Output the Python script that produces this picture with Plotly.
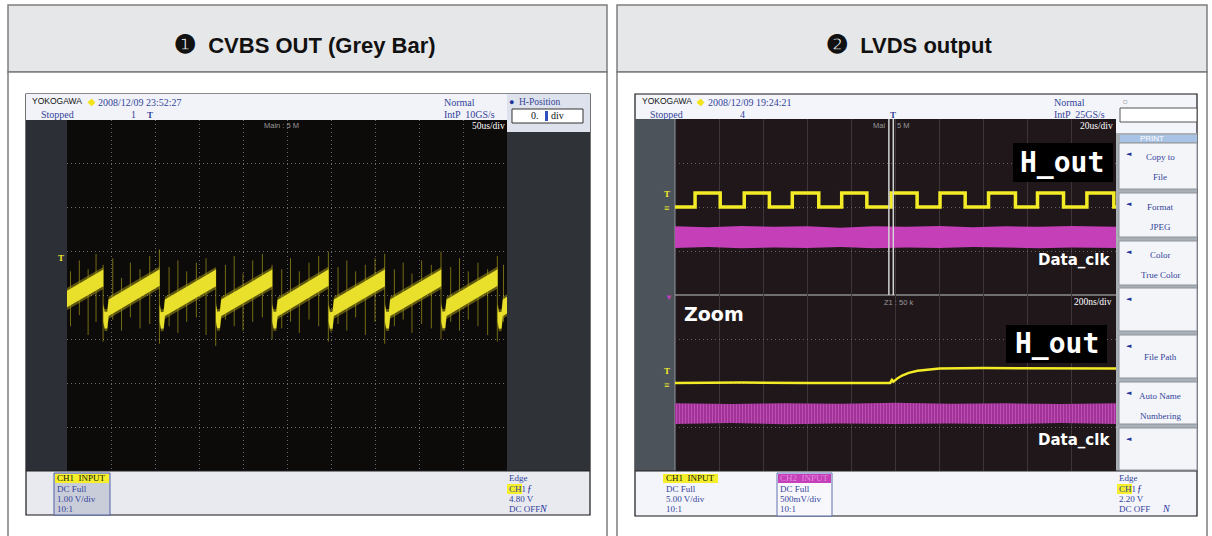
import plotly.graph_objects as go

W, H = 1212, 536

# ---------------- data ----------------
titles = ["❶", "CVBS OUT (Grey Bar)", "❷", "LVDS output"]

# CVBS OUT (grey bar), 50 us/div, 1 V/div  -> centre of the trace band, in divisions
cvbs_t = [0.0,
          41.3, 41.3, 42.8, 45.8, 47.3,
          105.3, 105.3, 106.8, 109.8, 111.3,
          169.3, 169.3, 170.8, 173.8, 175.3,
          233.3, 233.3, 234.8, 237.8, 239.3,
          297.3, 297.3, 298.8, 301.8, 303.3,
          361.3, 361.3, 362.8, 365.8, 367.3,
          425.3, 425.3, 426.8, 429.8, 431.3,
          489.3, 489.3, 490.8, 493.8, 495.3,
          500.0]
cvbs_v = [-0.08,
          0.40, -0.40, -0.56, -0.56, -0.28,
          0.41, -0.40, -0.57, -0.56, -0.28,
          0.40, -0.41, -0.56, -0.55, -0.28,
          0.40, -0.40, -0.56, -0.56, -0.29,
          0.41, -0.40, -0.57, -0.56, -0.28,
          0.40, -0.41, -0.56, -0.56, -0.28,
          0.40, -0.40, -0.56, -0.55, -0.28,
          0.41, -0.40, -0.57, -0.56, -0.28,
          -0.22]

# thin glitch spikes riding on the CVBS trace
spike_t = [4, 14, 24, 33, 41, 52, 62, 72,
           83, 94, 105, 116, 126, 136, 147, 158,
           169, 180, 190, 200, 211, 222, 233, 244,
           254, 264, 275, 286, 297, 308, 318, 328,
           339, 350, 361, 372, 382, 392, 403, 414,
           425, 436, 446, 456, 467, 478, 489, 496]
spike_hi = [0.55, 0.80, 0.60, 0.95, 0.70, 0.85, 0.40, 0.75,
            0.60, 0.90, 1.05, 0.65, 0.80, 0.55, 0.75, 0.85,
            0.60, 0.70, 0.90, 0.50, 0.80, 0.95, 0.70, 0.60,
            0.85, 0.55, 0.75, 0.90, 1.00, 0.65, 0.80, 0.55,
            0.70, 0.85, 0.95, 0.60, 0.75, 0.50, 0.80, 0.70,
            1.00, 0.65, 0.85, 0.55, 0.75, 0.60, 0.90, 0.70]
spike_lo = [-0.70, -0.45, -0.90, -0.60, -1.05, -0.55, -0.80, -0.50,
            -0.75, -0.65, -1.10, -0.70, -0.85, -0.60, -0.50, -0.90,
            -1.15, -0.55, -0.70, -0.80, -0.60, -0.50, -1.00, -0.75,
            -0.60, -0.85, -0.55, -0.70, -1.05, -0.65, -0.80, -0.50,
            -0.90, -0.60, -1.10, -0.70, -0.55, -0.85, -0.65, -0.75,
            -1.00, -0.60, -0.80, -0.55, -0.70, -0.90, -1.05, -0.60]

# LVDS main window, 20 us/div
hout_rise_us = [9.1, 31.4, 53.2, 75.6, 98.0, 120.2, 142.2, 164.4, 186.8]
hout_fall_us = [20.5, 42.8, 65.2, 87.0, 109.8, 131.6, 154.4, 176.2, 199.0]
hout_low, hout_high = 0.0, 0.32
dclk_main_t = [0, 15, 30, 45, 60, 75, 90, 105, 120, 135, 150, 165, 180, 200]
dclk_main_top = [-0.44, -0.46, -0.43, -0.45, -0.44, -0.47, -0.44, -0.45, -0.43, -0.46, -0.44, -0.45, -0.43, -0.45]
dclk_main_bot = [-0.93, -0.91, -0.94, -0.92, -0.93, -0.91, -0.94, -0.92, -0.93, -0.91, -0.92, -0.94, -0.92, -0.93]
zoom_start_us, zoom_width_us = 97.0, 2.0

# LVDS zoom window, 200 ns/div
hout_zoom_ns = [0, 300, 600, 900, 975, 984, 990, 998, 1010, 1030, 1060, 1100, 1150, 1200, 1400, 1700, 2000]
hout_zoom_div = [0.0, 0.01, 0.0, 0.01, 0.0, 0.07, 0.03, 0.06, 0.11, 0.17, 0.23, 0.28, 0.31, 0.33, 0.34, 0.33, 0.33]
dclk_zoom_t = [0, 250, 500, 750, 1000, 1250, 1500, 1750, 2000]
dclk_zoom_top = [-0.46, -0.48, -0.46, -0.47, -0.45, -0.47, -0.46, -0.48, -0.46]
dclk_zoom_bot = [-0.93, -0.91, -0.94, -0.92, -0.93, -0.92, -0.94, -0.91, -0.93]

menu_labels = [("Copy to", "File"), ("Format", "JPEG"), ("Color", "True Color"), ("", ""),
               ("", "File Path"), ("Auto Name", "Numbering"), ("", "")]

# ---------------- helpers ----------------
SERIF = "Liberation Serif, DejaVu Serif, serif"
SANS = "Liberation Sans, Arial, sans-serif"
BOLD = "DejaVu Sans, sans-serif"
MONO = "DejaVu Sans Mono, monospace"
BLUE = "#34449a"
YEL = "#f3eb26"
MAG = "#c43fb8"


def fx(x):
    return x / W


def fy(y):
    return 1 - y / H


shapes, annotations = [], []


def rect(x0, y0, x1, y1, fill=None, line=None, lw=1, layer="below"):
    shapes.append(dict(type="rect", xref="paper", yref="paper",
                       x0=fx(x0), x1=fx(x1), y0=fy(y1), y1=fy(y0),
                       fillcolor=fill or "rgba(0,0,0,0)",
                       line=dict(color=line or "rgba(0,0,0,0)", width=lw if line else 0),
                       layer=layer))


def hline(x0, x1, y, color, w=1, layer="below"):
    shapes.append(dict(type="line", xref="paper", yref="paper", x0=fx(x0), x1=fx(x1),
                       y0=fy(y), y1=fy(y), line=dict(color=color, width=w), layer=layer))


def vline(x, y0, y1, color, w=1, layer="below"):
    shapes.append(dict(type="line", xref="paper", yref="paper", x0=fx(x), x1=fx(x),
                       y0=fy(y0), y1=fy(y1), line=dict(color=color, width=w), layer=layer))


def txt(x, y, s, size=9, color="#000", family=SERIF, anchor="left", bold=False):
    annotations.append(dict(x=fx(x), y=fy(y), xref="paper", yref="paper", text=s,
                            showarrow=False, xanchor=anchor, yanchor="middle",
                            font=dict(size=size, color=color, family=family,
                                      weight="bold" if bold else "normal"),
                            borderpad=0))


fig = go.Figure()

# ---------------- table cells ----------------
for (cx0, cx1), num, title in zip([(8, 607), (617, 1207)], titles[0::2], titles[1::2]):
    rect(cx0, 5, cx1, 72, fill="#e6e7e8", line="#7d7d7d", lw=1.5)
    rect(cx0, 72, cx1, 560, fill="white", line="#7d7d7d", lw=1.5)
    txt((cx0 + cx1) / 2 - 3, 44,
        "<span style='font-size:25px'>" + num + "</span>  " + title,
        22, "#111", SANS, anchor="center", bold=True)

# ---------------- left scope screen ----------------
rect(26, 94, 590, 515, fill="#e8eaf0", line="#161616", lw=1.2)
rect(26, 94, 590, 120, fill="#f1f3f8")
rect(26, 120, 67, 471, fill="#2c3036")
rect(67, 120, 507, 471, fill="#0d0a0a")
rect(507, 120, 590, 471, fill="#2f3338")
rect(507, 94, 590, 132, fill="#dde2ec")
rect(512, 109, 583, 123, fill="white", line="#333", lw=1)
rect(545, 111, 548, 121, fill="#3050c0")
hline(26, 590, 471, "#222", 1)
rect(54, 473, 110, 515, fill="#c9cdd9", line="#5363a3", lw=1)
rect(55, 474, 109, 483, fill="#f4ef2a")
rect(507, 484, 522, 494, fill="#f4ef2a")

txt(31, 101, "YOKOGAWA", 8.5, "#111", SANS)
txt(87, 101, "◆", 10, "#f2e31b", SANS)
txt(97, 102, "2008/12/09 23:52:27", 10, BLUE)
txt(40, 114, "Stopped", 10, BLUE)
txt(130, 114, "1", 10, BLUE)
txt(146, 115, "T", 9, BLUE, bold=True)
txt(443, 102, "Normal", 10, BLUE)
txt(443, 114, "IntP  10GS/s", 10, BLUE)
txt(508, 102, "●", 9, "#23339a", SANS)
txt(518, 102, "H-Position", 9.5, BLUE)
txt(530, 116, "0.", 10, "#111")
txt(550, 116, "div", 10, "#111")
txt(263, 125, "Main : 5 M", 7.5, "#9a9a9a", SANS)
txt(506, 126, "50us/div", 9.5, "white", anchor="right")
txt(57, 258, "T", 9, YEL, bold=True)

txt(56, 478, "CH1  INPUT", 9, "#111")
txt(56, 489, "DC Full", 9, BLUE)
txt(56, 499, "1.00 V/div", 9, BLUE)
txt(56, 509, "10:1", 9, BLUE)
txt(508, 478, "Edge", 9, BLUE)
txt(508, 489, "CH1", 9, BLUE)
txt(526, 488, "ƒ", 10, "#23339a")
txt(508, 499, "4.80 V", 9, BLUE)
txt(508, 509, "DC OFF", 9, BLUE)
txt(538, 508, "<i>N</i>", 10, "#23339a")

# ---------------- right scope screen ----------------
rect(635, 94, 1197, 516, fill="#f3f5fa", line="#161616", lw=1.2)
rect(635, 119, 675, 471, fill="#4c535b")
rect(675, 119, 1116, 471, fill="#1f171a")
rect(1116, 133, 1197, 471, fill="#a9afb7")
rect(1120, 108, 1197, 122, fill="white", line="#555", lw=1)
rect(1120, 135, 1197, 142, fill="#a9c3e6")
vline(675, 119, 471, "#8f969e", 1)
hline(675, 1116, 295, "#8c8c8c", 1.5)
hline(635, 1197, 471, "#222", 1)

menu_boxes = [(143, 189), (193, 237), (241, 285), (288, 331), (335, 378), (382, 424), (428, 470)]
for (y0, y1), (l1, l2) in zip(menu_boxes, menu_labels):
    rect(1119, y0, 1197, y1, fill="#f3f5f9", line="#8e949c", lw=1)
    txt(1125, y0 + 11, "◄", 7, "#23339a", BOLD)
    if l1:
        txt(1160, y0 + 14, l1, 9, BLUE, anchor="center")
    if l2:
        txt(1160, y0 + 34 if l1 else y0 + 22, l2, 9, BLUE, anchor="center")
txt(1152, 138.5, "PRINT", 8, "white", SANS, anchor="center")
txt(1121, 101, "○", 10, "#999", SANS)

txt(641, 101, "YOKOGAWA", 8.5, "#111", SANS)
txt(696, 101, "◆", 10, "#f2e31b", SANS)
txt(707, 102, "2008/12/09 19:24:21", 10, BLUE)
txt(649, 114, "Stopped", 10, BLUE)
txt(739, 114, "4", 10, BLUE)
txt(889, 115, "T", 9, BLUE, bold=True)
txt(1053, 102, "Normal", 10, BLUE)
txt(1053, 114, "IntP  25GS/s", 10, BLUE)

txt(872, 126, "Mai", 7.5, "#9a9a9a", SANS)
txt(896, 126, "5 M", 7.5, "#9a9a9a", SANS)
txt(1114, 126, "20us/div", 9.5, "white", anchor="right")
txt(883, 302, "Z1 : 50 k", 7.5, "#9a9a9a", SANS)
txt(1113, 302, "200ns/div", 9.5, "white", anchor="right")
txt(683, 314, "Zoom", 19, "white", BOLD, bold=True)

rect(1013, 143, 1113, 182, fill="black", layer="above")
txt(1062, 162, "H_out", 28, "white", MONO, anchor="center", bold=True)
rect(1006, 325, 1107, 363, fill="black", layer="above")
txt(1057, 343, "H_out", 28, "white", MONO, anchor="center", bold=True)
txt(1111, 260, "Data_clk", 15, "white", BOLD, anchor="right", bold=True)
txt(1111, 440, "Data_clk", 15, "white", BOLD, anchor="right", bold=True)

txt(663, 194, "T", 9, YEL, bold=True)
txt(663, 208, "≡", 9, YEL, SANS)
txt(663, 371, "T", 9, YEL, bold=True)
txt(663, 385, "≡", 9, YEL, SANS)
txt(664, 297, "▼", 8, MAG, SANS)

rect(663, 474, 718, 483, fill="#f4ef2a")
rect(777, 473, 832, 516, fill="#f8f8fc", line="#6070b0", lw=1)
rect(778, 474, 831, 483, fill=MAG)
rect(1117, 484, 1132, 494, fill="#f4ef2a")
txt(665, 478, "CH1  INPUT", 9, "#111")
txt(665, 489, "DC Full", 9, BLUE)
txt(665, 499, "5.00 V/div", 9, BLUE)
txt(665, 509, "10:1", 9, BLUE)
txt(779, 478, "CH2  INPUT", 9, "#e58ade")
txt(779, 489, "DC Full", 9, BLUE)
txt(779, 499, "500mV/div", 9, BLUE)
txt(779, 509, "10:1", 9, BLUE)
txt(1118, 478, "Edge", 9, BLUE)
txt(1118, 489, "CH1", 9, BLUE)
txt(1136, 488, "ƒ", 10, "#23339a")
txt(1118, 499, "2.20 V", 9, BLUE)
txt(1118, 509, "DC OFF", 9, BLUE)
txt(1161, 508, "<i>N</i>", 10, "#23339a")

# zoom window cursor lines on the main trace
for xv in [zoom_start_us, zoom_start_us + zoom_width_us]:
    shapes.append(dict(type="line", xref="x2", yref="paper", x0=xv, x1=xv,
                       y0=fy(295), y1=fy(119), line=dict(color="#d4d4d4", width=1.5), layer="above"))

# ---------------- traces ----------------
# CVBS
sx, sy = [], []
for t, lo, hi in zip(spike_t, spike_lo, spike_hi):
    sx += [t, t, None]
    sy += [lo, hi, None]
fig.add_trace(go.Scatter(x=sx, y=sy, mode="lines", line=dict(color="rgba(200,190,30,0.55)", width=1),
                         xaxis="x", yaxis="y", hoverinfo="skip", showlegend=False))
fig.add_trace(go.Scatter(x=cvbs_t, y=[v - 0.25 for v in cvbs_v], mode="lines", line=dict(width=0),
                         xaxis="x", yaxis="y", hoverinfo="skip", showlegend=False))
fig.add_trace(go.Scatter(x=cvbs_t, y=[v + 0.25 for v in cvbs_v], mode="lines", line=dict(width=0),
                         fill="tonexty", fillcolor="rgba(160,150,20,0.55)",
                         xaxis="x", yaxis="y", hoverinfo="skip", showlegend=False))
fig.add_trace(go.Scatter(x=cvbs_t, y=[v - 0.19 for v in cvbs_v], mode="lines", line=dict(width=0),
                         xaxis="x", yaxis="y", hoverinfo="skip", showlegend=False))
fig.add_trace(go.Scatter(x=cvbs_t, y=[v + 0.19 for v in cvbs_v], mode="lines", line=dict(width=0),
                         fill="tonexty", fillcolor="#e8e02a",
                         xaxis="x", yaxis="y", hoverinfo="skip", showlegend=False))

# LVDS main
fig.add_trace(go.Scatter(x=dclk_main_t, y=dclk_main_bot, mode="lines", line=dict(width=0),
                         xaxis="x2", yaxis="y2", hoverinfo="skip", showlegend=False))
fig.add_trace(go.Scatter(x=dclk_main_t, y=dclk_main_top, mode="lines", line=dict(width=0),
                         fill="tonexty", fillcolor=MAG,
                         xaxis="x2", yaxis="y2", hoverinfo="skip", showlegend=False))
hx, hy = [0.0], [hout_low]
for r, f in zip(hout_rise_us, hout_fall_us):
    hx += [r, r, f, f]
    hy += [hout_low, hout_high, hout_high, hout_low]
hx.append(200.0)
hy.append(hout_low)
fig.add_trace(go.Scatter(x=hx, y=hy, mode="lines", line=dict(color=YEL, width=3.5),
                         xaxis="x2", yaxis="y2", hoverinfo="skip", showlegend=False))

# LVDS zoom
fig.add_trace(go.Scatter(x=dclk_zoom_t, y=dclk_zoom_bot, mode="lines", line=dict(width=0),
                         xaxis="x3", yaxis="y3", hoverinfo="skip", showlegend=False))
fig.add_trace(go.Scatter(x=dclk_zoom_t, y=dclk_zoom_top, mode="lines", line=dict(width=0),
                         fill="tonexty", fillcolor="#9a2c90",
                         fillpattern=dict(shape="|", fgcolor="#e070d8", bgcolor="#9a2c90",
                                          size=3, solidity=0.45),
                         xaxis="x3", yaxis="y3", hoverinfo="skip", showlegend=False))
fig.add_trace(go.Scatter(x=hout_zoom_ns, y=hout_zoom_div, mode="lines", line=dict(color=YEL, width=2.5),
                         xaxis="x3", yaxis="y3", hoverinfo="skip", showlegend=False))

# ---------------- axes ----------------
base = dict(showticklabels=False, ticks="", zeroline=False, showline=False, fixedrange=True, gridwidth=1)
fig.update_layout(
    width=W, height=H, margin=dict(l=0, r=0, t=0, b=0),
    paper_bgcolor="white", plot_bgcolor="rgba(0,0,0,0)",
    xaxis=dict(base, domain=[fx(67), fx(507)], range=[0, 500], dtick=50, tick0=0,
               gridcolor="#6a6a6a", griddash="1px,3px", anchor="y"),
    yaxis=dict(base, domain=[fy(471), fy(120)], range=[-4, 4], dtick=1, tick0=0,
               gridcolor="#6a6a6a", griddash="1px,3px", anchor="x"),
    xaxis2=dict(base, domain=[fx(675), fx(1116)], range=[0, 200], dtick=20, tick0=0,
                gridcolor="#3d3538", anchor="y2"),
    yaxis2=dict(base, domain=[fy(295), fy(119)], range=[-2, 2], dtick=1, tick0=0,
                gridcolor="#6a6266", griddash="1px,3px", anchor="x2"),
    xaxis3=dict(base, domain=[fx(675), fx(1116)], range=[0, 2000], dtick=200, tick0=0,
                gridcolor="#3d3538", anchor="y3"),
    yaxis3=dict(base, domain=[fy(471), fy(295)], range=[-2, 2], dtick=1, tick0=0,
                gridcolor="#6a6266", griddash="1px,3px", anchor="x3"),
    shapes=shapes, annotations=annotations,
)

fig.write_html("out.html", config={"displayModeBar": False},
               post_script="document.body.style.margin='0px';")
